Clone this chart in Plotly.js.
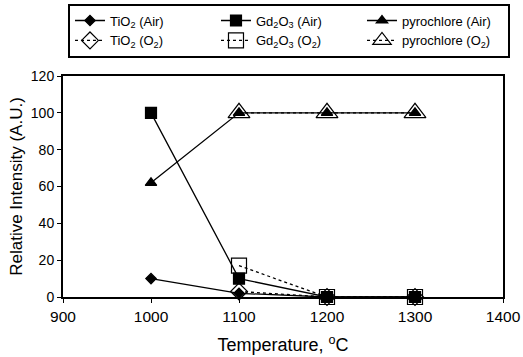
<!DOCTYPE html>
<html><head><meta charset="utf-8">
<script src="https://cdn.plot.ly/plotly-3.0.1.min.js"></script>
<style>html,body{margin:0;padding:0;background:#fff}</style>
</head><body><div id="c" style="width:523px;height:357px"></div>
<script>
const tAir = [1000, 1100, 1200, 1300];
const tO2 = [1100, 1200, 1300];
const tio2Air = [10, 2, 0, 0];
const gd2o3Air = [100, 10, 0, 0];
const pyroAir = [62, 100, 100, 100];
const tio2O2 = [3, 0, 0];
const gd2o3O2 = [17, 0, 0];
const pyroO2 = [100, 100, 100];
const names = ["TiO<sub>2</sub> (Air)", "Gd<sub>2</sub>O<sub>3</sub> (Air)", "pyrochlore (Air)",
  "TiO<sub>2</sub> (O<sub>2</sub>)", "Gd<sub>2</sub>O<sub>3</sub> (O<sub>2</sub>)", "pyrochlore (O<sub>2</sub>)"];
const xTicks = [900, 1000, 1100, 1200, 1300, 1400];
const yTicks = [0, 20, 40, 60, 80, 100, 120];

function tr(x, y, name, sym, size, dash) {
  return {x: x, y: y, name: name, type: 'scatter', mode: 'lines+markers',
    line: {color: '#000', width: 1.3, dash: dash},
    marker: {symbol: sym, size: size, color: '#000', line: {color: '#000', width: 1.2}},
    cliponaxis: false};
}
const data = [
  tr(tAir, tio2Air, names[0], 'diamond', 8, 'solid'),
  tr(tAir, gd2o3Air, names[1], 'square', 11, 'solid'),
  tr(tAir, pyroAir, names[2], 'triangle-up', 10, 'solid'),
  tr(tO2, tio2O2, names[3], 'diamond-open', 13, 'dot'),
  tr(tO2, gd2o3O2, names[4], 'square-open', 15, 'dot'),
  tr(tO2, pyroO2, names[5], 'triangle-up-open', 19, 'dot')
];
const fam = 'Liberation Sans, Arial, sans-serif';
const layout = {
  width: 523, height: 357,
  margin: {l: 63, r: 20, t: 76, b: 60},
  paper_bgcolor: '#fff', plot_bgcolor: '#fff',
  font: {family: fam, color: '#000', size: 14},
  showlegend: true,
  legend: {orientation: 'h', xref: 'container', x: 0.13, xanchor: 'left', y: 0.99, yanchor: 'top', yref: 'container',
    bordercolor: '#000', borderwidth: 2, entrywidth: 101, font: {size: 13, family: fam, color: '#000'},
    tracegroupgap: 0, itemwidth: 30},
  xaxis: {range: [900, 1400], tickvals: xTicks, ticktext: xTicks.map(String),
    showgrid: false, zeroline: false, showline: true, linecolor: '#000', linewidth: 2,
    mirror: true, ticks: 'outside', ticklen: 4, tickcolor: '#000',
    tickfont: {size: 15.5, family: fam, color: '#000'},
    title: {text: 'Temperature, <sup>o</sup>C', font: {size: 18, family: fam, color: '#000'}, standoff: 15}},
  yaxis: {range: [0, 120], tickvals: yTicks, ticktext: yTicks.map(String),
    showgrid: false, zeroline: false, showline: true, linecolor: '#000', linewidth: 2,
    mirror: true, ticks: 'outside', ticklen: 4, tickcolor: '#000',
    tickfont: {size: 14, family: fam, color: '#000'},
    title: {text: 'Relative Intensity (A.U.)', font: {size: 17, family: fam, color: '#000'}, standoff: 4}}
};
Plotly.newPlot('c', data, layout, {displayModeBar: false, staticPlot: true});
</script></body></html>
